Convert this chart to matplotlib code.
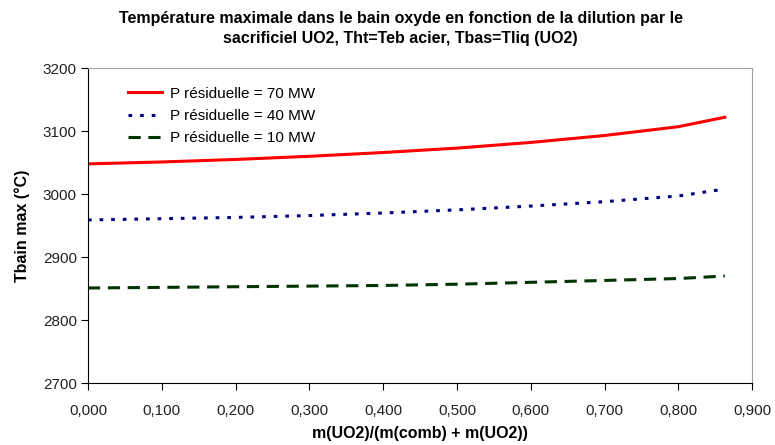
import matplotlib
matplotlib.use("Agg")
import matplotlib.pyplot as plt
from matplotlib.ticker import FuncFormatter, MultipleLocator

plt.rcParams['font.family'] = ['Liberation Sans', 'DejaVu Sans']

x = [0.0, 0.1, 0.2, 0.3, 0.4, 0.5, 0.6, 0.7, 0.8, 0.863]
p70 = [3048, 3051, 3055, 3060, 3066, 3073, 3082, 3093, 3107, 3122]
p40 = [2959, 2961, 2963, 2966, 2970, 2975, 2981, 2988, 2997, 3008]
p10 = [2851, 2852, 2853, 2854, 2855, 2857, 2860, 2863, 2866, 2870]
labels = ["P résiduelle = 70 MW", "P résiduelle = 40 MW", "P résiduelle = 10 MW"]

fig = plt.figure(figsize=(7.75, 4.45), dpi=100)
ax = fig.add_axes([0.1135, 0.139, 0.857, 0.708])

ax.plot(x, p70, color='#ff0000', lw=2.2, label=labels[0])
ax.plot(x, p40, color='#000080', lw=2.2, linestyle=(0, (1.2, 2.6)), label=labels[1])
ax.plot(x, p10, color='#003300', lw=2.2, linestyle=(0, (4, 2.5)), label=labels[2])

ax.set_xlim(0, 0.9)
ax.set_ylim(2700, 3200)
ax.xaxis.set_major_locator(MultipleLocator(0.1))
ax.yaxis.set_major_locator(MultipleLocator(100))
ax.xaxis.set_major_formatter(FuncFormatter(lambda v, p: f"{v:.3f}".replace('.', ',')))
ax.tick_params(axis='y', direction='out', length=5, labelsize=11, pad=3)
ax.tick_params(axis='x', direction='out', length=5, labelsize=11, pad=10)
for t in ax.get_xticklabels() + ax.get_yticklabels():
    t.set_color('#222222')

ax.spines['top'].set_color('#a0a0a0')
ax.spines['right'].set_color('#a0a0a0')
ax.spines['left'].set_color('#000000')
ax.spines['bottom'].set_color('#000000')

ax.set_xlabel("m(UO2)/(m(comb) + m(UO2))", fontsize=11.5, fontweight='bold', labelpad=6)
ax.set_ylabel("Tbain max (°C)", fontsize=11.5, fontweight='bold', labelpad=9)

fig.suptitle("Température maximale dans le bain oxyde en fonction de la dilution par le\nsacrificiel UO2, Tht=Teb acier, Tbas=Tliq (UO2)",
             x=0.517, y=0.975, fontsize=11.5, fontweight='bold', linespacing=1.4)

ax.legend(loc='upper left', bbox_to_anchor=(0.04, 0.985), frameon=False, fontsize=11,
          handlelength=2.2, handletextpad=0.5, labelspacing=0.55)

fig.savefig("out.png", dpi=100)
